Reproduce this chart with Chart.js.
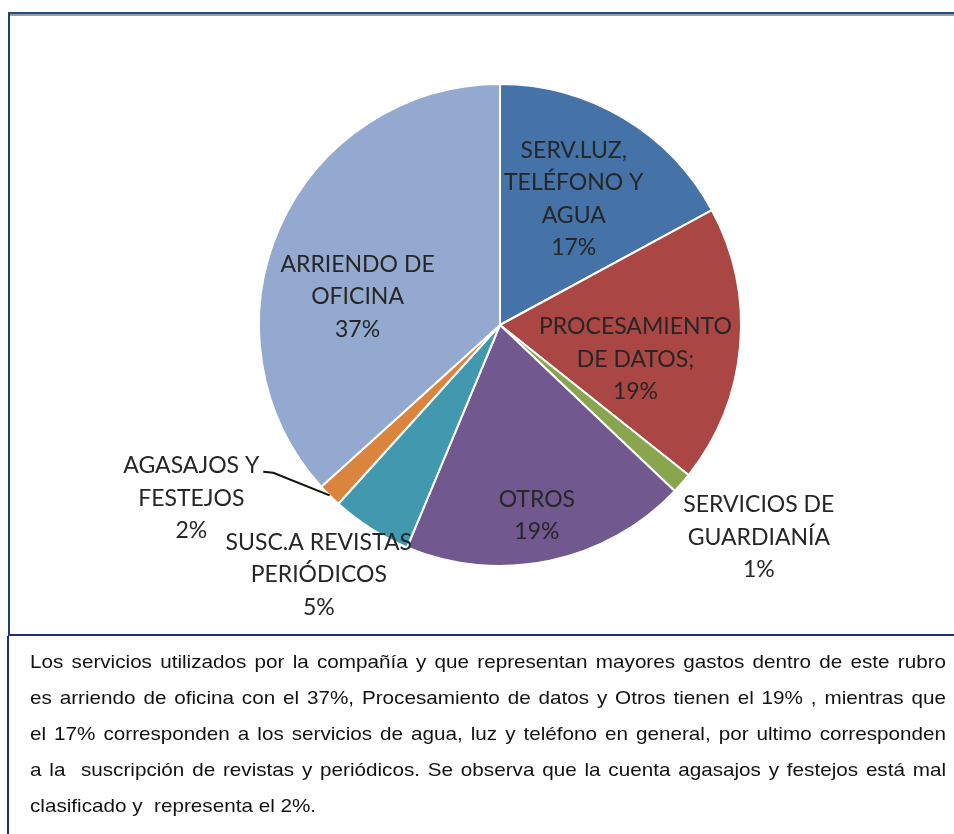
<!DOCTYPE html>
<html>
<head>
<meta charset="utf-8">
<script src="https://cdn.jsdelivr.net/npm/chart.js@4.4.1/dist/chart.umd.min.js"></script>
<style>
  html, body { margin: 0; padding: 0; background: #fff; }
  body { width: 954px; height: 834px; position: relative; overflow: hidden; }
  #chartBox {
    position: absolute; left: 8px; top: 12px; width: 946px; height: 620px;
    border-top: 2px solid #254a80; border-left: 2px solid #1f3f7c;
    border-bottom: 2px solid #1f2b85;
  }
  #chartBox:before {
    content: ""; position: absolute; left: 0; right: 0; top: 0; height: 2px; background: #9c9c9c;
  }
  #chartCanvas { position: absolute; left: 0; top: 0; }
  #notes {
    position: absolute; left: 7px; top: 636px; width: 947px; height: 198px;
    border-left: 2px solid #1f2b85;
    font-family: "Liberation Sans", Arial, sans-serif; font-size: 18.4px; color: #111;
  }
  #notes div {
    position: absolute; left: 21px; width: 815px; text-align: justify; text-align-last: justify;
    white-space: pre; line-height: 20px; transform: scaleX(1.124); transform-origin: 0 0;
  }
  #notes div.last { text-align-last: left; }
</style>
</head>
<body>
<canvas id="chartCanvas" width="954" height="634"></canvas>
<div id="chartBox"></div>
<div id="notes"></div>
<script>
// slices, clockwise from the top
const categories = ['SERV.LUZ, TELÉFONO Y AGUA', 'PROCESAMIENTO DE DATOS;', 'SERVICIOS DE GUARDIANÍA', 'OTROS',
                    'SUSC.A REVISTAS PERIÓDICOS', 'AGASAJOS Y FESTEJOS', 'ARRIENDO DE OFICINA'];
const labelLines = [['SERV.LUZ,', 'TELÉFONO Y', 'AGUA'], ['PROCESAMIENTO', 'DE DATOS;'], ['SERVICIOS DE', 'GUARDIANÍA'],
                    ['OTROS'], ['SUSC.A REVISTAS', 'PERIÓDICOS'], ['AGASAJOS Y', 'FESTEJOS'], ['ARRIENDO DE', 'OFICINA']];
const values = [17.1, 18.6, 1.4, 19.2, 5.4, 1.6, 36.7];
const colors = ['#4572a7', '#aa4643', '#89a54e', '#71588f', '#4198af', '#db843d', '#93a9cf'];

const noteLines = [
  'Los servicios utilizados por la compañía y que representan mayores gastos dentro de este rubro',
  'es arriendo de oficina con el 37%, Procesamiento de datos y Otros tienen el 19% , mientras que',
  'el 17% corresponden a los servicios de agua, luz y teléfono en general, por ultimo corresponden',
  'a la  suscripción de revistas y periódicos. Se observa que la cuenta agasajos y festejos está mal',
  'clasificado y  representa el 2%.'
];

// label block centres, in pie radii from the pie centre
const labelPos = [[0.306, -0.523], [0.562, 0.143], [1.074, 0.880], [0.153, 0.791],
                  [-0.752, 1.037], [-1.281, 0.719], [-0.591, -0.116]];
const leaderFor = 5;

var notes = document.getElementById('notes');
noteLines.forEach(function (t, i) {
  var d = document.createElement('div');
  d.textContent = t;
  d.style.top = (16 + i * 36) + 'px';
  if (i == noteLines.length - 1) d.className = 'last';
  notes.appendChild(d);
});

const total = values.reduce((a, b) => a + b, 0);

const pieLabels = {
  id: 'pieLabels',
  afterDatasetsDraw(chart) {
    var ctx = chart.ctx;
    var arcs = chart.getDatasetMeta(0).data;
    var lh = 32.5;
    ctx.save();
    ctx.font = '23px Lato, "Open Sans", sans-serif';
    ctx.fillStyle = '#262626';
    ctx.textAlign = 'center';
    ctx.textBaseline = 'middle';
    arcs.forEach(function (arc, i) {
      var r = arc.outerRadius;
      var lines = labelLines[i].concat([Math.round(values[i] / total * 100) + '%']);
      var cx = arc.x + labelPos[i][0] * r;
      var cy = arc.y + labelPos[i][1] * r - (lines.length - 1) * lh / 2;
      lines.forEach(function (t, k) { ctx.fillText(t, cx, cy + k * lh); });
      if (i == leaderFor) {
        var mid = (arc.startAngle + arc.endAngle) / 2;
        var ex = arc.x + Math.cos(mid) * r, ey = arc.y + Math.sin(mid) * r;
        var sx = cx + ctx.measureText(lines[0]).width / 2 + 4;
        ctx.strokeStyle = '#111';
        ctx.lineWidth = 2;
        ctx.beginPath();
        ctx.moveTo(sx, cy + 6);
        ctx.lineTo(sx + 10, cy + 7);
        ctx.lineTo(ex, ey);
        ctx.stroke();
      }
    });
    ctx.restore();
  }
};

new Chart(document.getElementById('chartCanvas').getContext('2d'), {
  type: 'pie',
  data: {
    labels: categories,
    datasets: [{
      data: values,
      backgroundColor: colors,
      borderColor: '#ffffff',
      borderWidth: 2
    }]
  },
  options: {
    responsive: false,
    animation: false,
    layout: { padding: { left: 258, right: 212, top: 83, bottom: 67 } },
    plugins: { legend: { display: false }, tooltip: { enabled: false } }
  },
  plugins: [pieLabels]
});
</script>
</body>
</html>
